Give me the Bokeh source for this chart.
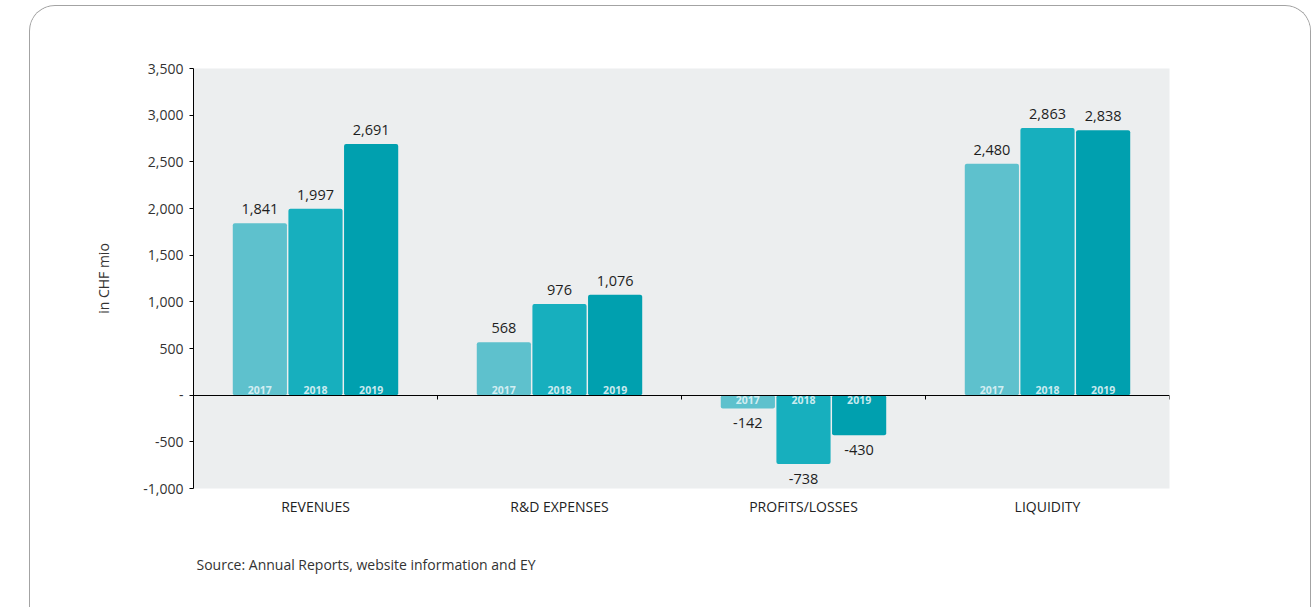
import numpy as np
from bokeh.plotting import figure
from bokeh.models import ColumnDataSource, Range1d, FixedTicker, LinearAxis, Title, NumeralTickFormatter
from bokeh.core.properties import value
from bokeh.embed import file_html
from bokeh.resources import INLINE

# ---------------- data ----------------
categories = ["REVENUES", "R&D EXPENSES", "PROFITS/LOSSES", "LIQUIDITY"]
years = ["2017", "2018", "2019"]
values_2017 = [1841, 568, -142, 2480]
values_2018 = [1997, 976, -738, 2863]
values_2019 = [2691, 1076, -430, 2838]
y_ticks = [-1000, -500, 0, 500, 1000, 1500, 2000, 2500, 3000, 3500]
y_label = "in CHF mio"
source_note = "Source: Annual Reports, website information and EY"

# ---------------- style ----------------
FONT = "Open Sans"
year_colors = ["#5ec1cd", "#17afbe", "#00a0af"]
series = [values_2017, values_2018, values_2019]
n = len(categories)
centers = np.arange(n) + 0.5
group_step = 0.228
bar_w = 0.222

p = figure(
    width=1282, height=602,
    x_range=Range1d(0, n), y_range=Range1d(y_ticks[0], y_ticks[-1]),
    output_backend="svg", toolbar_location=None,
    min_border_left=163, min_border_right=143,
    min_border_top=62, min_border_bottom=119,
    background_fill_color="#eceeef", border_fill_color="white",
    outline_line_color=None,
    styles={
        "margin-left": "29px",
        "margin-top": "5px",
        "border-top": "1px solid #a3a3a3",
        "border-left": "1px solid #a3a3a3",
        "border-right": "1px solid #a3a3a3",
        "border-radius": "26px 26px 0 0",
        "overflow": "hidden",
    },
)
p.grid.visible = False

# bars
for i, (yr, vals, col) in enumerate(zip(years, series, year_colors)):
    xs = centers + (i - 1) * group_step
    vals = np.array(vals)
    src = ColumnDataSource(dict(x=xs, top=vals))
    p.vbar(x="x", top="top", bottom=0, width=bar_w, source=src,
           fill_color=col, line_color=None, border_radius=2)
    pos = vals >= 0
    neg = ~pos
    spos = ColumnDataSource(dict(x=xs[pos], y=vals[pos], yr=[yr] * int(pos.sum()),
                                 lab=["{:,}".format(v) for v in vals[pos]]))
    sneg = ColumnDataSource(dict(x=xs[neg], y=vals[neg], yr=[yr] * int(neg.sum()),
                                 lab=["{:,}".format(v) for v in vals[neg]]))
    # value labels
    p.text(x="x", y="y", text="lab", source=spos, text_align="center",
           text_baseline="bottom", y_offset=-9, text_font=value(FONT),
           text_font_size="14.5px", text_color="#1e1e1e")
    p.text(x="x", y="y", text="lab", source=sneg, text_align="center",
           text_baseline="top", y_offset=10, text_font=value(FONT),
           text_font_size="14.5px", text_color="#1e1e1e")
    # year labels inside bars
    p.text(x="x", y=0, text="yr", source=spos, text_align="center",
           text_baseline="bottom", y_offset=-1, text_font=value(FONT),
           text_font_size="10.5px", text_font_style="bold",
           text_color="#e2f4f7", text_alpha=0.9)
    p.text(x="x", y=0, text="yr", source=sneg, text_align="center",
           text_baseline="top", y_offset=1, text_font=value(FONT),
           text_font_size="10.5px", text_font_style="bold",
           text_color="#e2f4f7", text_alpha=0.9)

# y axis
ya = p.yaxis[0]
ya.ticker = FixedTicker(ticks=y_ticks, minor_ticks=[])
ya.formatter = NumeralTickFormatter(format="0,0")
ya.major_label_overrides = {0: "-"}
ya.major_tick_in = 0
ya.major_tick_out = 4
ya.minor_tick_line_color = None
ya.axis_line_color = "black"
ya.major_tick_line_color = "black"
ya.major_label_standoff = 6
ya.major_label_text_font = FONT
ya.major_label_text_font_size = "14px"
ya.major_label_text_color = "#333333"
ya.axis_label = y_label
ya.axis_label_text_font = FONT
ya.axis_label_text_font_size = "14px"
ya.axis_label_text_font_style = "normal"
ya.axis_label_text_color = "#333333"
ya.axis_label_standoff = 27

# category axis (labels only)
xa = p.xaxis[0]
xa.ticker = FixedTicker(ticks=list(centers), minor_ticks=[])
xa.major_label_overrides = {float(c): name for c, name in zip(centers, categories)}
xa.axis_line_color = None
xa.major_tick_line_color = None
xa.minor_tick_line_color = None
xa.major_tick_out = 0
xa.major_label_standoff = 8
xa.major_label_text_font = FONT
xa.major_label_text_font_size = "14px"
xa.major_label_text_color = "#222222"

# zero line axis with category boundary ticks
za = LinearAxis(fixed_location=0,
                ticker=FixedTicker(ticks=list(range(n + 1)), minor_ticks=[]),
                major_tick_in=0, major_tick_out=4,
                major_label_text_color=None,
                axis_line_color="black", major_tick_line_color="black",
                minor_tick_line_color=None)
p.add_layout(za, "below")

p.add_layout(Title(text=source_note, align="left", offset=3, standoff=69,
                   text_font=FONT, text_font_size="14px",
                   text_font_style="normal", text_color="#333333"), "below")

open("out.html", "w").write(file_html(p, INLINE))
